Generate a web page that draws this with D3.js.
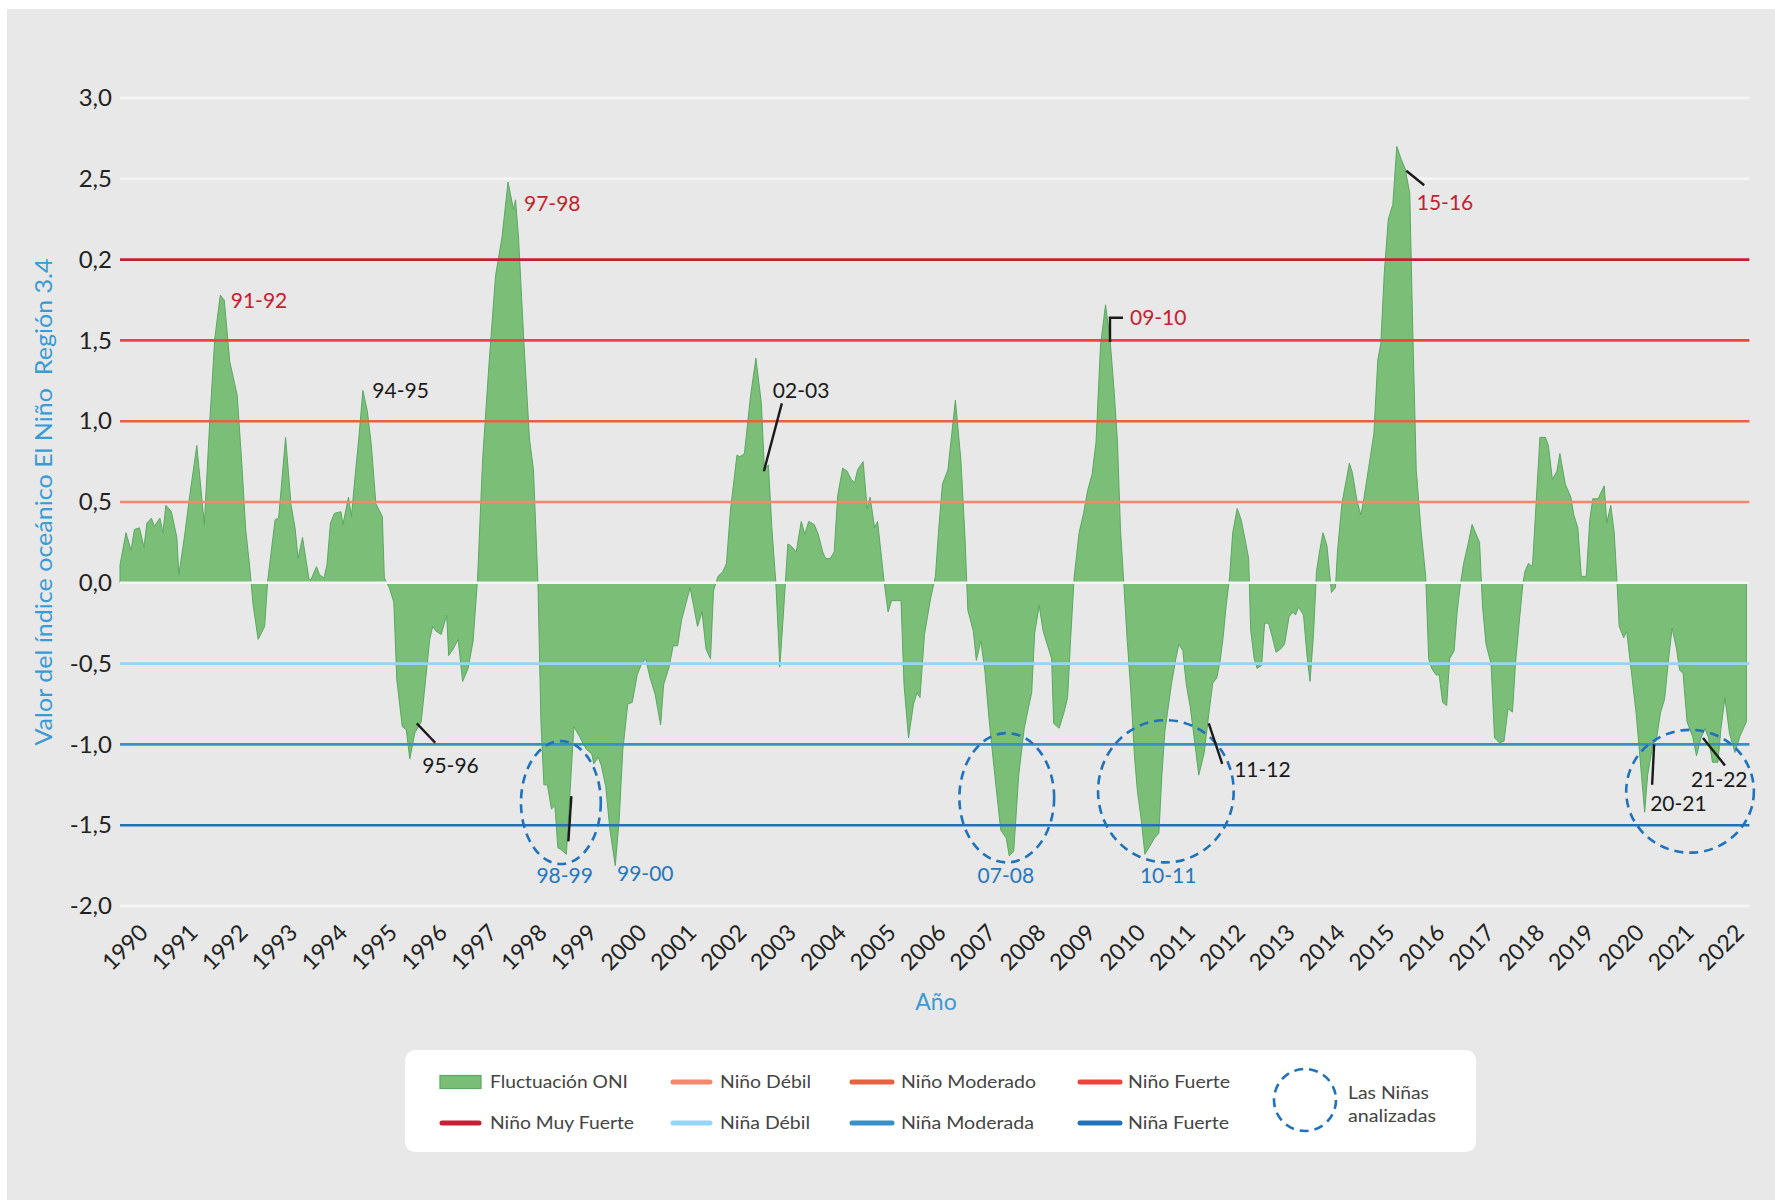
<!DOCTYPE html>
<html><head><meta charset="utf-8">
<script src="https://cdn.jsdelivr.net/npm/d3@7"></script>
<style>
html,body{margin:0;padding:0;background:#fff;}
svg{display:block;font-family:Lato,'Open Sans',sans-serif;}
</style></head><body>
<svg id="chart" width="1775" height="1200"></svg>
<script>
// ---------------- DATA ----------------
const oniSeries = [
[1990.00,0.11],[1990.12,0.31],[1990.22,0.20],[1990.29,0.33],[1990.39,0.34],[1990.48,0.22],[1990.54,0.37],[1990.63,0.40],[1990.69,0.35],[1990.80,0.40],[1990.86,0.31],[1990.92,0.48],[1991.03,0.44],[1991.14,0.28],[1991.18,0.05],[1991.29,0.28],[1991.39,0.52],[1991.54,0.85],[1991.69,0.36],[1991.80,1.00],[1991.90,1.51],[1992.01,1.78],[1992.09,1.75],[1992.20,1.37],[1992.35,1.16],[1992.45,0.70],[1992.52,0.33],[1992.60,0.10],[1992.67,-0.14],[1992.77,-0.35],[1992.90,-0.27],[1992.96,0.01],[1993.11,0.39],[1993.18,0.40],[1993.32,0.90],[1993.43,0.48],[1993.51,0.34],[1993.57,0.15],[1993.66,0.28],[1993.79,0.02],[1993.83,0.02],[1993.94,0.10],[1994.00,0.05],[1994.09,0.03],[1994.15,0.11],[1994.22,0.37],[1994.30,0.43],[1994.43,0.44],[1994.47,0.36],[1994.58,0.53],[1994.64,0.41],[1994.72,0.68],[1994.79,0.90],[1994.87,1.19],[1994.96,1.06],[1995.04,0.85],[1995.13,0.49],[1995.26,0.41],[1995.30,0.03],[1995.40,-0.03],[1995.49,-0.12],[1995.55,-0.60],[1995.66,-0.89],[1995.74,-0.91],[1995.81,-1.09],[1995.91,-0.93],[1996.04,-0.86],[1996.21,-0.35],[1996.27,-0.27],[1996.34,-0.30],[1996.44,-0.32],[1996.55,-0.20],[1996.59,-0.45],[1996.68,-0.41],[1996.78,-0.35],[1996.87,-0.61],[1996.98,-0.53],[1997.08,-0.36],[1997.17,0.03],[1997.27,0.76],[1997.40,1.36],[1997.53,1.90],[1997.66,2.14],[1997.78,2.48],[1997.89,2.31],[1997.93,2.37],[1997.99,2.14],[1998.10,1.48],[1998.21,0.89],[1998.29,0.70],[1998.38,0.00],[1998.44,-0.86],[1998.50,-1.25],[1998.57,-1.25],[1998.65,-1.40],[1998.72,-1.38],[1998.78,-1.64],[1998.84,-1.65],[1998.95,-1.68],[1999.10,-0.89],[1999.21,-0.95],[1999.35,-1.03],[1999.46,-1.06],[1999.50,-1.12],[1999.59,-1.08],[1999.65,-1.13],[1999.74,-1.26],[1999.82,-1.52],[1999.93,-1.75],[2000.01,-1.46],[2000.08,-1.04],[2000.18,-0.75],[2000.27,-0.74],[2000.37,-0.57],[2000.46,-0.50],[2000.54,-0.47],[2000.63,-0.59],[2000.73,-0.69],[2000.84,-0.88],[2000.90,-0.63],[2001.01,-0.52],[2001.09,-0.39],[2001.18,-0.39],[2001.26,-0.23],[2001.43,-0.03],[2001.50,-0.14],[2001.58,-0.27],[2001.67,-0.18],[2001.75,-0.41],[2001.84,-0.47],[2001.90,-0.05],[2001.99,0.04],[2002.09,0.07],[2002.16,0.12],[2002.24,0.45],[2002.37,0.79],[2002.43,0.78],[2002.52,0.80],[2002.64,1.15],[2002.75,1.39],[2002.86,1.11],[2002.92,0.70],[2003.00,0.73],[2003.07,0.34],[2003.15,0.00],[2003.23,-0.52],[2003.30,-0.20],[2003.39,0.24],[2003.45,0.23],[2003.56,0.19],[2003.60,0.27],[2003.66,0.38],[2003.73,0.30],[2003.81,0.38],[2003.92,0.36],[2004.00,0.30],[2004.09,0.19],[2004.15,0.15],[2004.24,0.15],[2004.32,0.19],[2004.39,0.54],[2004.49,0.71],[2004.58,0.69],[2004.66,0.64],[2004.73,0.62],[2004.79,0.70],[2004.90,0.75],[2004.98,0.46],[2005.04,0.53],[2005.13,0.34],[2005.19,0.38],[2005.32,0.01],[2005.40,-0.18],[2005.47,-0.11],[2005.57,-0.11],[2005.66,-0.11],[2005.72,-0.63],[2005.81,-0.96],[2005.91,-0.75],[2005.98,-0.68],[2006.04,-0.71],[2006.13,-0.32],[2006.25,-0.10],
[2006.35,0.04],[2006.41,0.31],[2006.49,0.61],[2006.60,0.70],[2006.75,1.13],[2006.86,0.76],[2006.94,0.30],[2007.00,-0.17],[2007.11,-0.30],[2007.17,-0.48],[2007.26,-0.36],[2007.34,-0.54],[2007.43,-0.86],[2007.54,-1.19],[2007.66,-1.53],[2007.77,-1.58],[2007.83,-1.69],[2007.92,-1.66],[2008.02,-1.19],[2008.13,-0.90],[2008.21,-0.78],[2008.28,-0.68],[2008.34,-0.31],[2008.43,-0.14],[2008.51,-0.30],[2008.62,-0.41],[2008.68,-0.47],[2008.72,-0.87],[2008.83,-0.90],[2008.92,-0.81],[2009.00,-0.71],[2009.06,-0.35],[2009.13,0.03],[2009.23,0.31],[2009.32,0.43],[2009.40,0.57],[2009.49,0.67],[2009.57,0.87],[2009.66,1.47],[2009.76,1.72],[2009.85,1.51],[2009.93,1.20],[2010.00,0.87],[2010.06,0.33],[2010.13,-0.02],[2010.19,-0.33],[2010.27,-0.68],[2010.34,-1.07],[2010.40,-1.29],[2010.47,-1.45],[2010.55,-1.68],[2010.63,-1.64],[2010.74,-1.58],[2010.83,-1.55],[2010.89,-1.19],[2010.95,-0.92],[2011.08,-0.63],[2011.17,-0.47],[2011.23,-0.38],[2011.31,-0.42],[2011.38,-0.63],[2011.46,-0.77],[2011.55,-0.99],[2011.63,-1.19],[2011.74,-1.05],[2011.82,-0.84],[2011.91,-0.62],[2011.99,-0.59],[2012.06,-0.48],[2012.12,-0.33],[2012.18,-0.14],[2012.25,0.04],[2012.31,0.31],[2012.40,0.46],[2012.48,0.39],[2012.57,0.25],[2012.63,0.15],[2012.67,-0.29],[2012.74,-0.47],[2012.80,-0.53],[2012.89,-0.51],[2012.95,-0.25],[2013.03,-0.25],[2013.10,-0.33],[2013.18,-0.43],[2013.27,-0.41],[2013.35,-0.38],[2013.44,-0.21],[2013.52,-0.18],[2013.57,-0.20],[2013.63,-0.15],[2013.73,-0.20],[2013.80,-0.45],[2013.86,-0.61],[2013.93,-0.32],[2013.99,0.07],[2014.05,0.19],[2014.12,0.31],[2014.20,0.23],[2014.29,-0.06],[2014.37,-0.03],[2014.41,0.19],[2014.50,0.49],[2014.65,0.74],[2014.71,0.68],[2014.80,0.51],[2014.88,0.42],[2014.94,0.52],[2015.03,0.70],[2015.14,0.92],[2015.22,1.38],[2015.28,1.48],[2015.35,1.92],[2015.43,2.25],[2015.52,2.34],[2015.60,2.70],[2015.69,2.62],[2015.77,2.56],[2015.86,2.41],[2015.92,1.57],[2015.99,0.70],[2016.09,0.31],[2016.18,0.04],[2016.24,-0.47],[2016.30,-0.53],[2016.39,-0.57],[2016.45,-0.57],[2016.52,-0.74],[2016.60,-0.76],[2016.66,-0.47],[2016.75,-0.42],[2016.81,-0.18],[2016.88,0.00],[2016.94,0.12],[2017.03,0.24],[2017.11,0.36],[2017.26,0.25],[2017.32,-0.15],[2017.39,-0.38],[2017.49,-0.50],[2017.56,-0.96],[2017.66,-0.99],[2017.75,-0.98],[2017.83,-0.78],[2017.92,-0.80],[2017.98,-0.50],[2018.05,-0.26],[2018.13,0.00],[2018.17,0.07],[2018.24,0.12],[2018.32,0.10],[2018.38,0.42],[2018.47,0.90],[2018.58,0.90],[2018.64,0.85],[2018.72,0.64],[2018.81,0.69],[2018.87,0.80],[2018.98,0.61],[2019.09,0.53],[2019.15,0.42],[2019.23,0.34],[2019.30,0.04],[2019.40,0.04],[2019.47,0.39],[2019.53,0.52],[2019.64,0.52],[2019.68,0.55],[2019.76,0.60],[2019.81,0.37],[2019.89,0.48],[2019.96,0.31],[2020.02,-0.02],[2020.06,-0.27],[2020.15,-0.34],[2020.21,-0.30],[2020.30,-0.54],[2020.40,-0.81],[2020.49,-1.13],[2020.57,-1.42],[2020.63,-1.19],[2020.74,-0.99],[2020.80,-0.98],[2020.89,-0.80],[2020.97,-0.72],[2021.04,-0.50],[2021.12,-0.28],[2021.21,-0.41],[2021.27,-0.54],[2021.34,-0.56],[2021.42,-0.86],[2021.53,-0.95],[2021.61,-1.07],[2021.70,-0.96],[2021.78,-0.90],[2021.85,-0.96],[2021.93,-1.11],[2022.04,-1.11],[2022.10,-0.90],[2022.18,-0.71],[2022.27,-0.93],[2022.38,-1.05],[2022.48,-0.95],[2022.61,-0.86]
];
const yTickValues = [3, 2.5, 2, 1.5, 1, 0.5, 0, -0.5, -1, -1.5, -2];
const yTickLabels = ["3,0","2,5","0,2","1,5","1,0","0,5","0,0","-0,5","-1,0","-1,5","-2,0"];
const yearLabels = d3.range(1990, 2023);
const gridValues = [3, 2.5, -2];
const zeroValue = 0;
const thresholdNames = ["Niño Débil","Niño Moderado","Niño Fuerte","Niño Muy Fuerte","Niña Débil","Niña Moderada","Niña Fuerte"];
const thresholdValues = [0.5, 1.0, 1.5, 2.0, -0.5, -1.0, -1.5];
const thresholdColors = ["#f4886c","#e4623f","#f0413a","#c41f33","#95d6f6","#3990c7","#2272b9"];
const annotations = [
  {text:"91-92", t:1992.22, v:1.744, color:"#c8202f"},
  {text:"97-98", t:1998.10, v:2.348, color:"#c8202f"},
  {text:"15-16", t:2016.00, v:2.350, color:"#c8202f"},
  {text:"09-10", t:2010.25, v:1.640, color:"#c8202f"},
  {text:"94-95", t:1995.06, v:1.187, color:"#1a1a1a"},
  {text:"02-03", t:2003.09, v:1.187, color:"#1a1a1a"},
  {text:"95-96", t:1996.06, v:-1.131, color:"#1a1a1a"},
  {text:"98-99", t:1998.35, v:-1.812, color:"#2677c0"},
  {text:"99-00", t:1999.965, v:-1.802, color:"#2677c0"},
  {text:"07-08", t:2007.195, v:-1.814, color:"#2677c0"},
  {text:"10-11", t:2010.45, v:-1.814, color:"#2677c0"},
  {text:"11-12", t:2012.34, v:-1.155, color:"#1a1a1a"},
  {text:"20-21", t:2020.68, v:-1.365, color:"#1a1a1a"},
  {text:"21-22", t:2021.50, v:-1.220, color:"#1a1a1a"}
];
const leaders = [
  [[2003.27,1.11],[2002.91,0.69]],
  [[1995.95,-0.87],[1996.32,-0.99]],
  [[1999.05,-1.32],[1998.99,-1.60]],
  [[2015.79,2.55],[2016.15,2.46]],
  [[2009.85,1.49],[2009.85,1.64],[2010.11,1.64]],
  [[2011.83,-0.87],[2012.10,-1.12]],
  [[2020.76,-1.00],[2020.72,-1.25]],
  [[2021.74,-0.96],[2022.18,-1.13]]
];
const ninaCircles = [
  {t:1998.84, v:-1.36, rt:0.80, rv:0.38},
  {t:2007.78, v:-1.33, rt:0.95, rv:0.40},
  {t:2010.97, v:-1.29, rt:1.36, rv:0.44},
  {t:2021.48, v:-1.29, rt:1.28, rv:0.38}
];
const legendRow1 = ["Fluctuación ONI","Niño Débil","Niño Moderado","Niño Fuerte"];
const legendRow2 = ["Niño Muy Fuerte","Niña Débil","Niña Moderada","Niña Fuerte"];
const legendCircleText = ["Las Niñas","analizadas"];
const yTitle = "Valor del índice oceánico El Niño  Región 3.4";
const xTitle = "Año";

// ---------------- LAYOUT ----------------
const W = 1775, H = 1200;
const svg = d3.select("#chart");
svg.append("rect").attr("x",7).attr("y",9).attr("width",W-7).attr("height",H-9).attr("fill","#e7e8e7");

const x = d3.scaleLinear().domain([1990, 2022.61]).range([120, 1746.4]);
const y = d3.scaleLinear().domain([-2, 3]).range([906, 98]);
const lineStart = 1990, lineEnd = 2022.67;

// white gridlines (behind)
svg.append("g").selectAll("line").data(gridValues).join("line")
  .attr("x1", x(lineStart)).attr("x2", x(lineEnd))
  .attr("y1", d=>y(d)).attr("y2", d=>y(d))
  .attr("stroke","#f5f5f5").attr("stroke-width",2.5);

// area
const area = d3.area().x(d=>x(d[0])).y0(y(0)).y1(d=>y(d[1]));
svg.append("path").datum(oniSeries).attr("d", area).attr("fill","#7bbe77")
  .attr("stroke","#5aa862").attr("stroke-width",1).attr("stroke-linejoin","round");

// zero line (white, on top)
svg.append("line").attr("x1", x(lineStart)).attr("x2", x(lineEnd))
  .attr("y1", y(zeroValue)).attr("y2", y(zeroValue))
  .attr("stroke","#f5f5f5").attr("stroke-width",2.5);

// thresholds
svg.append("g").selectAll("line").data(thresholdValues).join("line")
  .attr("x1", x(lineStart)).attr("x2", x(lineEnd))
  .attr("y1", d=>y(d)).attr("y2", d=>y(d))
  .attr("stroke", (d,i)=>thresholdColors[i]).attr("stroke-width",2.6);

// y axis
const gy = svg.append("g").attr("transform",`translate(${x(lineStart)},0)`)
  .call(d3.axisLeft(y).tickValues(yTickValues).tickSize(0).tickPadding(8).tickFormat((d,i)=>yTickLabels[i]));
gy.select(".domain").remove();
gy.attr("font-family","Lato").attr("font-size",24);
gy.selectAll("text").attr("fill","#222");

// x axis
const gx = svg.append("g").attr("transform",`translate(0,${y(-2)})`)
  .call(d3.axisBottom(x).tickValues(yearLabels.map(d=>d+0.58)).tickSize(0).tickFormat(d=>String(Math.round(d-0.58))));
gx.select(".domain").remove();
gx.attr("font-family","Lato").attr("font-size",23);
gx.selectAll("text").attr("fill","#222").attr("y",0).attr("dy",0).attr("x",0)
  .attr("text-anchor","end").attr("transform","translate(0,28) rotate(-45)");

// titles
svg.append("text").attr("transform",`translate(52,${(y(3)+y(-2))/2})rotate(-90)`)
  .attr("text-anchor","middle").attr("font-size",23.5).attr("fill","#3a9ad5")
  .attr("textLength",487).attr("lengthAdjust","spacingAndGlyphs")
  .style("white-space","pre").text(yTitle);
svg.append("text").attr("x",936).attr("y",1002).attr("dy","0.35em")
  .attr("text-anchor","middle").attr("font-size",23).attr("fill","#3a9ad5").text(xTitle);

// nina ellipses
svg.append("g").selectAll("ellipse").data(ninaCircles).join("ellipse")
  .attr("cx", d=>x(d.t)).attr("cy", d=>y(d.v))
  .attr("rx", d=>x(d.t+d.rt)-x(d.t)).attr("ry", d=>y(d.v-d.rv)-y(d.v))
  .attr("fill","none").attr("stroke","#1f72bb").attr("stroke-width",2.6).attr("stroke-dasharray","9 6");

// leaders
svg.append("g").selectAll("path").data(leaders).join("path")
  .attr("d", d=>d3.line().x(p=>x(p[0])).y(p=>y(p[1]))(d))
  .attr("fill","none").attr("stroke","#1a1a1a").attr("stroke-width",2.4);

// annotation labels
svg.append("g").selectAll("text").data(annotations).join("text")
  .attr("x", d=>x(d.t)).attr("y", d=>y(d.v)).attr("dy","0.35em")
  .attr("font-size",21).attr("fill", d=>d.color).text(d=>d.text);

// legend
const lg = svg.append("g");
lg.append("rect").attr("x",405).attr("y",1050).attr("width",1071).attr("height",102).attr("rx",10).attr("fill","#fff");
const colSwatch = [[440,481],[671,712],[850,894],[1078,1122]];
const colText = [490,720,901,1128];
const rowY = [1082,1123];
const widths1 = [138,91,135,102], widths2 = [144,90,133,101];
lg.append("rect").attr("x",colSwatch[0][0]).attr("y",rowY[0]-6.5).attr("width",colSwatch[0][1]-colSwatch[0][0]).attr("height",13)
  .attr("fill","#7bbe77").attr("stroke","#5aa862").attr("stroke-width",1.2);
const row1Lines = [null, thresholdColors[0], thresholdColors[1], thresholdColors[2]];
const row2Lines = [thresholdColors[3], thresholdColors[4], thresholdColors[5], thresholdColors[6]];
[row1Lines,row2Lines].forEach((arr,r)=>{
  arr.forEach((c,i)=>{
    if(!c) return;
    lg.append("line").attr("x1",colSwatch[i][0]+2).attr("x2",colSwatch[i][1]-2)
      .attr("y1",rowY[r]).attr("y2",rowY[r]).attr("stroke",c).attr("stroke-width",5).attr("stroke-linecap","round");
  });
});
[[legendRow1,widths1],[legendRow2,widths2]].forEach(([labels,ws],r)=>{
  labels.forEach((t,i)=>{
    lg.append("text").attr("x",colText[i]).attr("y",rowY[r]).attr("dy","0.35em")
      .attr("font-size",18).attr("fill","#444").attr("textLength",ws[i]).attr("lengthAdjust","spacingAndGlyphs").text(t);
  });
});
lg.append("circle").attr("cx",1305).attr("cy",1100).attr("r",31).attr("fill","none")
  .attr("stroke","#1f72bb").attr("stroke-width",2.6).attr("stroke-dasharray","9 6");
legendCircleText.forEach((t,i)=>{
  lg.append("text").attr("x",1348).attr("y",[1093,1116][i]).attr("dy","0.35em")
    .attr("font-size",18).attr("fill","#444").attr("textLength",[81,88][i]).attr("lengthAdjust","spacingAndGlyphs").text(t);
});
</script>
</body></html>
